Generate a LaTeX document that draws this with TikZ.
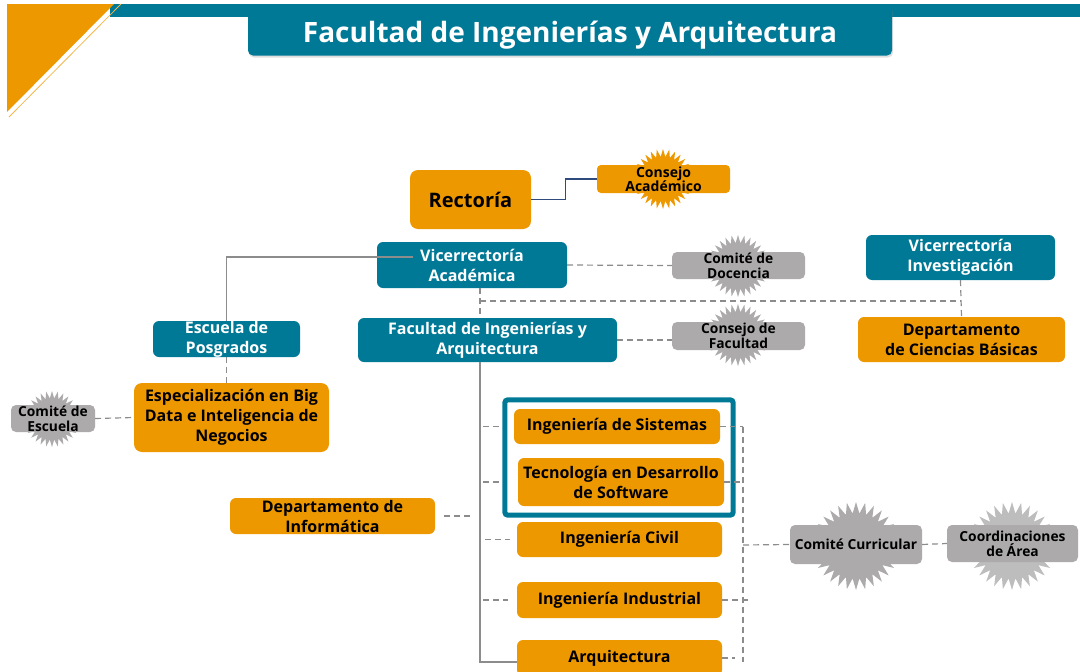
\documentclass[tikz,border=0pt]{standalone}
\usepackage{fontspec}
\setmainfont{Open Sans}
\usetikzlibrary{shapes.geometric,fit,calc,shadows}

\definecolor{uteal}{RGB}{0,121,150}
\definecolor{uorange}{RGB}{238,152,0}
\definecolor{ugray}{RGB}{172,170,170}
\definecolor{ugrayl}{RGB}{190,189,189}
\definecolor{uline}{RGB}{140,140,140}
\definecolor{unavy}{RGB}{47,75,125}

\begin{document}
\begin{tikzpicture}[
  x=1pt, y=-1pt,
  obox/.style={rectangle, rounded corners=6pt, fill=uorange, align=center,
               inner sep=0pt, text=black,
               font=\bfseries\fontsize{16}{20}\selectfont},
  tbox/.style={rectangle, rounded corners=6pt, fill=uteal, align=center,
               inner sep=0pt, text=white,
               font=\bfseries\fontsize{16}{20}\selectfont},
  gbox/.style={rectangle, rounded corners=5pt, fill=ugray, align=center,
               inner sep=0pt, text=black,
               font=\bfseries\fontsize{13.8}{15}\selectfont},
  burst/.style={star, star points=30, star point ratio=1.35, inner sep=0pt,
                fill=#1},
  dline/.style={draw=uline, line width=1.2pt, dash pattern=on 6pt off 4pt},
  sline/.style={draw=uline, line width=1.2pt},
]
\useasboundingbox (0,0) rectangle (1080,672);

% top banner
\fill[uteal] (110,4) rectangle (1080,17);
\fill[uorange] (7,4) -- (114,4) -- (7,112) -- cycle;
\draw[uorange!70, line width=0.8pt] (121,4) -- (9,117);
\node[rectangle, rounded corners=5pt, fill=uteal, minimum width=644pt,
      minimum height=51pt, inner sep=0pt, text=white,
      text height=25pt, text depth=0pt,
      drop shadow={shadow xshift=1pt, shadow yshift=-2pt, opacity=0.25},
      font=\bfseries\fontsize{28}{30}\selectfont] (title) at (570,30)
  {Facultad de Ingenierías y Arquitectura};
\fill[uteal] (248,4) rectangle (892,17);

% bursts behind the committees
\node[burst=uorange, minimum size=60pt] (ca-star) at (663,179) {};
\node[burst=ugray, minimum size=62pt] (cdoc-star) at (738,266) {};
\node[burst=ugray, minimum size=62pt] (cfac-star) at (738,335) {};
\node[burst=ugray, minimum size=56pt] (cesc-star) at (52,419) {};
\node[burst=ugray, minimum size=88pt] (ccur-star) at (856,546) {};
\node[burst=ugrayl, minimum size=88pt] (coord-star) at (1012,546) {};

% upper levels
\node[obox, rounded corners=8pt, minimum width=121pt, minimum height=59pt,
      font=\bfseries\fontsize{20}{22}\selectfont] (rect) at (470.5,199.5) {Rectoría};
\node[obox, rounded corners=4pt, minimum width=133pt, minimum height=28pt,
      font=\bfseries\fontsize{14}{14.5}\selectfont] (ca) at (663.5,179) {Consejo\\Académico};
\node[tbox, minimum width=190pt, minimum height=46pt] (va) at (472,265)
  {Vicerrectoría\\Académica};
\node[gbox, minimum width=133pt, minimum height=27pt] (cdoc) at (738.5,265.5)
  {Comité de\\Docencia};
\node[tbox, minimum width=189pt, minimum height=45pt] (vi) at (960.5,257.5)
  {Vicerrectoría\\Investigación};
\node[tbox, minimum width=147pt, minimum height=36pt] (esc) at (226.5,339)
  {Escuela de\\Posgrados};
\node[tbox, minimum width=259pt, minimum height=44pt] (fac) at (487.5,340)
  {Facultad de Ingenierías y\\Arquitectura};
\node[gbox, minimum width=133pt, minimum height=28pt] (cfac) at (738.5,336)
  {Consejo de\\Facultad};
\node[obox, minimum width=207pt, minimum height=45pt] (dcb) at (961.5,339.5)
  {Departamento\\de Ciencias Básicas};

% posgrados
\node[obox, rounded corners=8pt, minimum width=195pt, minimum height=69pt] (esp) at (231.5,417.5)
  {Especialización en Big\\Data e Inteligencia de\\Negocios};
\node[gbox, minimum width=84pt, minimum height=27pt] (cesc) at (53,418.5)
  {Comité de\\Escuela};

% programs
\node[obox, minimum width=206pt, minimum height=35pt] (sis) at (617,426.5)
  {Ingeniería de Sistemas};
\node[obox, minimum width=206pt, minimum height=48pt] (tds) at (621,482)
  {Tecnología en Desarrollo\\de Software};
\node[obox, minimum width=205pt, minimum height=35pt] (civ) at (619.5,539.5)
  {Ingeniería Civil};
\node[obox, minimum width=205pt, minimum height=36pt] (ind) at (619.5,600)
  {Ingeniería Industrial};
\node[obox, minimum width=205pt, minimum height=36pt] (arq) at (619.5,658)
  {Arquitectura};
\node[obox, minimum width=205pt, minimum height=36pt] (dinf) at (332.5,516)
  {Departamento de\\Informática};
\node[draw=uteal, line width=5pt, rounded corners=3pt, inner sep=9pt,
      fit=(sis)(tds)] (hl) {};

% curricular committees
\node[gbox, minimum width=132pt, minimum height=39pt] (ccur) at (856,544.5)
  {Comité Curricular};
\node[gbox, minimum width=131pt, minimum height=37pt] (coord) at (1012.5,543.5)
  {Coordinaciones\\de Área};

\coordinate (vsplit) at (480,301);
\coordinate (rsplit) at (743,545);

% connectors
\draw[unavy, line width=1.2pt] (rect.east) -- ++(34,0) |- (ca.west);
\draw[dline] (va.east) -- (cdoc.west);
\draw[sline] ([xshift=36pt, yshift=8pt]va.west) -| (esc.north);
\draw[dline] (va.south -| vsplit) -- (fac.north -| vsplit);
\draw[dline] (vsplit) -- (vsplit -| vi.south);
\draw[dline] (vi.south) -- (dcb.north);
\draw[dline] (fac.east) -- (fac.east -| cfac.west);
\draw[dline] (esc.south) -- (esc.south |- esp.north);
\draw[dline] (cesc.east) -- (esp.west);
\draw[sline] (fac.south -| vsplit) |- ([yshift=-4pt]arq.west);

% left stubs
\draw[dline, shorten <=3pt, shorten >=12pt] (sis.west -| vsplit) -- (sis.west);
\draw[dline, shorten <=3pt, shorten >=18pt] (tds.west -| vsplit) -- (tds.west);
\draw[dline, shorten <=5pt, shorten >=7pt] (civ.west -| vsplit) -- (civ.west);
\draw[dline, shorten <=3pt, shorten >=9pt] (ind.west -| vsplit) -- (ind.west);
\draw[dline, shorten <=9pt, shorten >=10pt] (dinf.east) -- (dinf.east -| vsplit);

% right side
\draw[dline] (sis.east -| rsplit) -- ([yshift=-4pt]arq.east -| rsplit);
\draw[dline] (sis.east) -- (sis.east -| rsplit);
\draw[dline] (tds.east) -- (tds.east -| rsplit);
\draw[dline] (ind.east) -- ([xshift=8pt]ind.east -| rsplit);
\draw[dline, shorten >=8pt] (arq.east) -- (arq.east -| rsplit);
\draw[dline] (rsplit) -- (ccur.west);
\draw[dline] (ccur.east) -- (coord.west);

\end{tikzpicture}
\end{document}
